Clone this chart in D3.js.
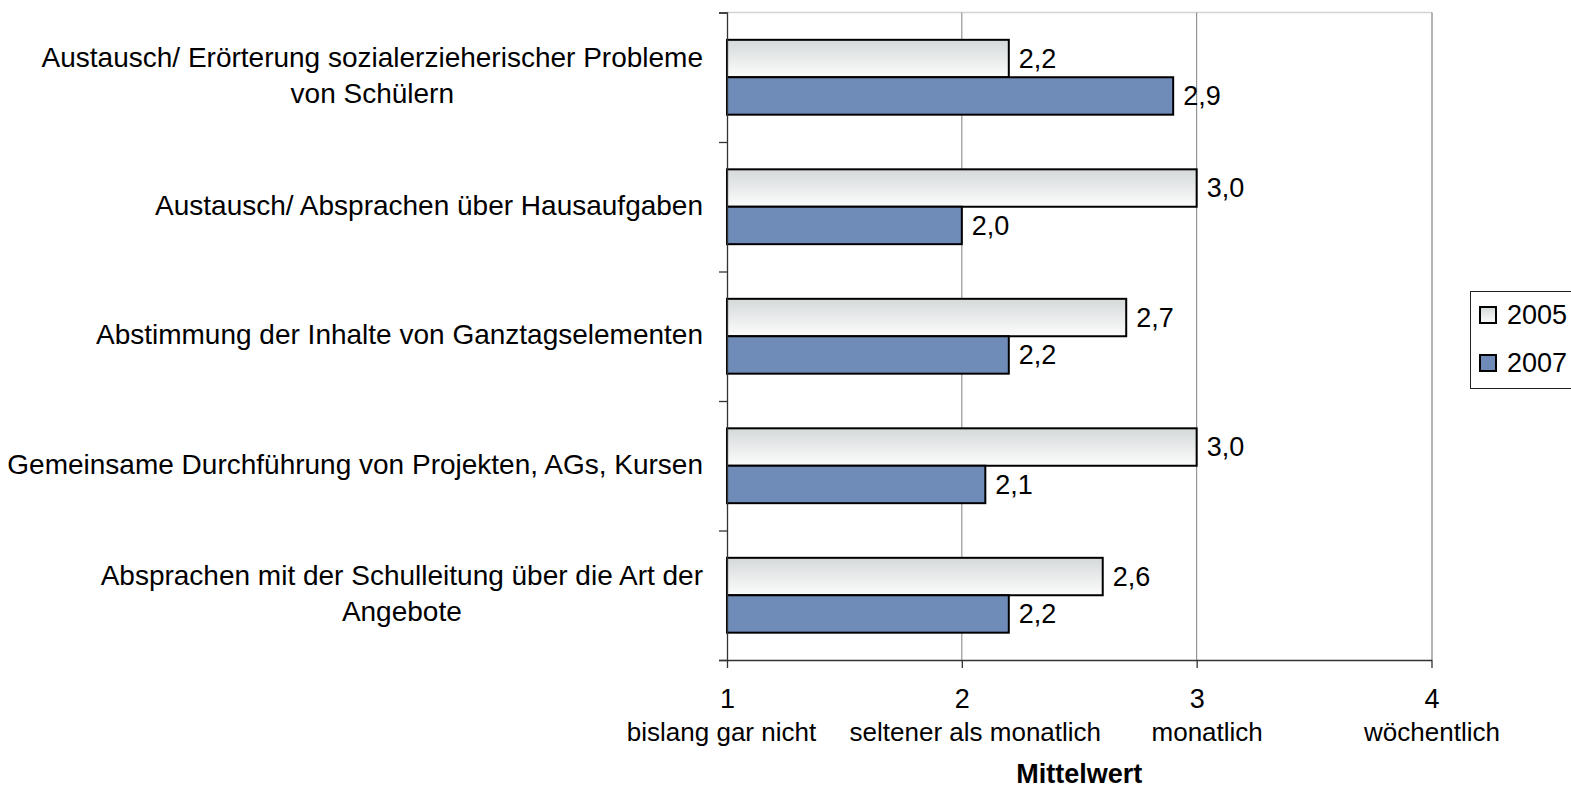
<!DOCTYPE html>
<html>
<head>
<meta charset="utf-8">
<script src="https://cdn.jsdelivr.net/npm/d3@7"></script>
<style>
  body { margin: 0; background: #fff; }
  svg { display: block; font-family: "Liberation Sans", Arial, sans-serif; }
</style>
</head>
<body>
<svg id="chart" width="1571" height="790"></svg>
<script>
// Daten
const categories = [
  ["Austausch/ Erörterung sozialerzieherischer Probleme", "von Schülern"],
  ["Austausch/ Absprachen über Hausaufgaben"],
  ["Abstimmung der Inhalte von Ganztagselementen"],
  ["Gemeinsame Durchführung von Projekten, AGs, Kursen"],
  ["Absprachen mit der Schulleitung über die Art der", "Angebote"]
];
const series = ["2005", "2007"];
const values2005 = [2.2, 3.0, 2.7, 3.0, 2.6];
const values2007 = [2.9, 2.0, 2.2, 2.1, 2.2];
const tickValues = [1, 2, 3, 4];
const tickLabels = ["bislang gar nicht", "seltener als monatlich", "monatlich", "wöchentlich"];
const axisTitle = "Mittelwert";

const svg = d3.select("#chart");
const plot = { left: 727, top: 12.5, right: 1431.5, bottom: 660 };

const x = d3.scaleLinear().domain([1, 4]).range([plot.left, plot.right]);
const y = d3.scaleBand().domain(d3.range(categories.length)).range([plot.top, plot.bottom]);
const ySub = d3.scaleBand().domain(series).range([0, y.bandwidth()]).paddingOuter(0.73);

const fmt = d3.formatLocale({ decimal: ",", thousands: ".", grouping: [3], currency: ["", "€"] }).format(".1f");

// Verlauf für 2005
const defs = svg.append("defs");
const grad = defs.append("linearGradient").attr("id", "g2005")
  .attr("x1", 0).attr("y1", 0).attr("x2", 0).attr("y2", 1);
grad.append("stop").attr("offset", "0%").attr("stop-color", "#d5d9da");
grad.append("stop").attr("offset", "100%").attr("stop-color", "#fcfcfc");
const fills = { "2005": "url(#g2005)", "2007": "#6f8bb8" };

// Gitternetz + Rahmen
svg.append("line")
  .attr("x1", plot.left).attr("x2", plot.right)
  .attr("y1", plot.top).attr("y2", plot.top)
  .attr("stroke", "#d4d4d4").attr("stroke-width", 1.5);

svg.append("g").selectAll("line")
  .data(tickValues.slice(1))
  .enter().append("line")
  .attr("x1", d => x(d)).attr("x2", d => x(d))
  .attr("y1", plot.top).attr("y2", plot.bottom)
  .attr("stroke", "#808080").attr("stroke-width", 1);

svg.append("line")
  .attr("x1", plot.right + 0.5).attr("x2", plot.right + 0.5)
  .attr("y1", plot.top).attr("y2", plot.bottom)
  .attr("stroke", "#b4b4b4").attr("stroke-width", 2);

// Balken
const rows = categories.map((c, i) => ({ i: i, vals: [values2005[i], values2007[i]] }));

const group = svg.append("g").selectAll("g")
  .data(rows)
  .enter().append("g")
  .attr("transform", d => `translate(0,${y(d.i)})`);

group.selectAll("rect")
  .data(d => series.map((s, k) => ({ s: s, v: d.vals[k] })))
  .enter().append("rect")
  .attr("x", x(1))
  .attr("y", d => ySub(d.s))
  .attr("width", d => x(d.v) - x(1))
  .attr("height", ySub.bandwidth())
  .attr("fill", d => fills[d.s])
  .attr("stroke", "#000")
  .attr("stroke-width", 2);

group.selectAll("text")
  .data(d => series.map((s, k) => ({ s: s, v: d.vals[k] })))
  .enter().append("text")
  .attr("x", d => x(d.v) + 10)
  .attr("y", d => ySub(d.s) + ySub.bandwidth() / 2)
  .attr("dy", "0.35em")
  .attr("font-size", 27)
  .text(d => fmt(d.v));

// Achsen
const yLin = d3.scaleLinear().domain([0, categories.length]).range([plot.top, plot.bottom]);
svg.append("g")
  .attr("transform", `translate(${plot.left},0)`)
  .call(d3.axisLeft(yLin).ticks(categories.length).tickSize(8).tickSizeOuter(8).tickFormat(""))
  .call(g => g.selectAll("path, line").attr("stroke", "#333").attr("stroke-width", 1.3));

const xAxis = svg.append("g")
  .attr("transform", `translate(0,${plot.bottom})`)
  .call(d3.axisBottom(x).tickValues(tickValues).tickSize(8).tickSizeOuter(0).tickFormat(d3.format("d")))
  .call(g => g.selectAll("path, line").attr("stroke", "#333").attr("stroke-width", 1.3));

xAxis.selectAll("text")
  .attr("y", 48).attr("dy", 0)
  .attr("font-size", 27).attr("fill", "#000");

// zweite Zeile der Achsenbeschriftung, leicht versetzt wie im Original
const labelShift = [-6, 13, 10, 0];
xAxis.selectAll(".tick").append("text")
  .attr("x", (d, i) => labelShift[i])
  .attr("y", 81)
  .attr("text-anchor", "middle")
  .attr("font-size", 26)
  .attr("fill", "#000")
  .text((d, i) => tickLabels[i]);

svg.append("text")
  .attr("x", (plot.left + plot.right) / 2)
  .attr("y", 783)
  .attr("text-anchor", "middle")
  .attr("font-size", 27)
  .attr("font-weight", "bold")
  .text(axisTitle);

// Kategorien (mehrzeilig, zentriert, rechtsbündig als Block)
const lineH = 36;
const catG = svg.append("g").attr("font-size", 28);
categories.forEach((lines, i) => {
  const t = catG.append("text").attr("text-anchor", "middle");
  const spans = t.selectAll("tspan").data(lines).enter().append("tspan").text(d => d);
  const w = d3.max(spans.nodes(), n => n.getComputedTextLength());
  const cx = 703 - w / 2;
  const cy = y(i) + y.bandwidth() / 2 - 2;
  spans.attr("x", cx)
    .attr("y", (d, k) => cy + (k - (lines.length - 1) / 2) * lineH)
    .attr("dy", "0.35em");
});

// Legende
const legend = svg.append("g");
legend.append("rect")
  .attr("x", 1470.5).attr("y", 291.5)
  .attr("width", 120).attr("height", 97)
  .attr("fill", "#fff").attr("stroke", "#222").attr("stroke-width", 1);

const item = legend.selectAll("g.item")
  .data(series)
  .enter().append("g").attr("class", "item")
  .attr("transform", (d, i) => `translate(1480,${315 + i * 48})`);

item.append("rect")
  .attr("x", 0).attr("y", -8)
  .attr("width", 16).attr("height", 16)
  .attr("fill", d => fills[d])
  .attr("stroke", "#000").attr("stroke-width", 2);

item.append("text")
  .attr("x", 27).attr("dy", "0.35em")
  .attr("font-size", 27)
  .text(d => d);
</script>
</body>
</html>
